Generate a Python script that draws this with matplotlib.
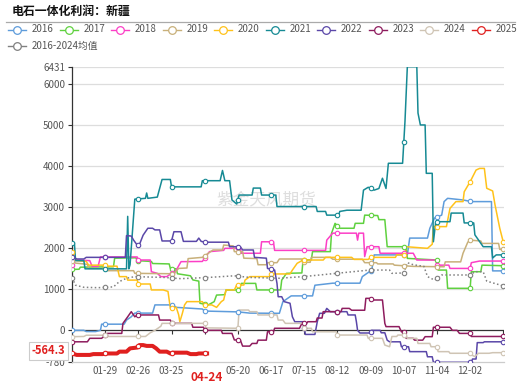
import datetime as dt
import numpy as np
import matplotlib
matplotlib.use("Agg")
import matplotlib.pyplot as plt
from matplotlib.lines import Line2D
from matplotlib import transforms

plt.rcParams['font.family'] = ['Noto Sans CJK SC', 'DejaVu Sans']

TITLE = "电石一体化利润：新疆"
WATERMARK = "紫金天风期货"
AVG_NAME = "2016-2024均值"
POINTER_DATE = "04-24"
POINTER_VALUE = -564.3
Y_MIN, Y_MAX = -780, 6431

# (day-of-year index, value) pairs
s2016 = [(0,0),(10,0),(12,-30),(20,-30),(24,0),(25,150),(44,150),(46,250),(50,330),(53,420),
         (68,420),(70,620),(85,620),(88,560),(110,520),(112,470),(140,450),(150,420),(175,415),
         (178,700),(185,840),(203,840),(205,1100),(220,1150),(243,1150),(245,1310),(253,1470),
         (255,1840),(283,1840),(285,2250),(300,2250),(302,2490),(306,2740),(312,2810),(314,3140),
         (317,3220),(330,3180),(337,3140),(354,3140),(355,1450),(365,1450)]
s2017 = [(0,1485),(6,1490),(7,1540),(35,1550),(36,1760),(54,1770),(55,1700),(67,1680),(68,1630),
         (82,1620),(83,1510),(88,1500),(89,1380),(100,1330),(102,1230),(107,1200),(108,660),
         (115,620),(120,700),(122,860),(129,870),(130,985),(141,985),(143,1145),(155,1145),
         (156,985),(176,985),(177,1225),(181,1390),(194,1400),(195,1715),(202,1720),(203,1920),
         (218,1920),(219,2365),(222,2610),(226,2490),(238,2490),(239,2610),(246,2610),(247,2810),
         (258,2800),(259,2700),(264,2700),(266,2040),(282,2040),(283,1755),(308,1715),(309,1470),
         (316,1470),(317,1025),(336,1025),(337,1430),(345,1430),(346,1590),(365,1575)]
s2018 = [(0,1595),(3,1720),(15,1700),(17,1560),(22,1560),(24,1790),(55,1790),(56,1715),(66,1715),
         (67,1430),(72,1390),(75,1310),(80,1310),(88,1470),(92,1675),(110,1680),(116,1920),
         (128,1950),(129,2000),(142,2000),(143,1880),(159,1880),(160,2160),(170,2160),(171,1950),
         (214,1950),(215,2200),(220,2370),(240,2370),(241,2200),(242,2370),(246,2370),(247,1800),
         (249,2040),(259,2040),(260,1880),(288,1880),(291,1715),(307,1715),(308,1590),(318,1590),
         (319,1510),(336,1510),(337,1650),(344,1690),(365,1690)]
s2019 = [(0,1700),(3,1640),(13,1610),(14,1510),(28,1510),(29,1455),(52,1455),(53,1390),(86,1380),
         (90,1510),(97,1520),(98,1750),(110,1780),(119,1960),(127,1960),(128,2080),(136,2060),
         (137,1920),(144,1920),(145,1760),(156,1750),(157,1600),(164,1600),(165,1650),(173,1650),
         (175,1740),(194,1740),(196,1660),(201,1660),(202,1780),(218,1780),(220,1735),(245,1735),
         (247,1650),(257,1650),(258,1620),(271,1620),(272,1590),(288,1560),(314,1550),(315,1670),
         (328,1670),(330,1880),(334,2150),(336,2200),(345,2180),(346,2120),(360,2120),(361,1975),
         (365,1975)]
s2020 = [(0,1900),(2,1800),(4,1700),(12,1680),(14,1590),(28,1590),(30,1565),(38,1565),(40,1310),
         (46,1310),(47,1225),(55,1225),(56,1130),(66,1130),(67,985),(77,985),(81,950),(83,540),
         (88,560),(90,380),(91,210),(93,400),(95,620),(97,700),(110,700),(112,620),(118,620),
         (122,560),(126,700),(128,740),(130,985),(137,985),(139,1105),(145,1105),(146,1225),
         (150,1310),(167,1310),(168,1375),(184,1375),(186,1470),(190,1635),(195,1715),(212,1715),
         (214,1780),(236,1780),(238,1730),(250,1730),(252,1780),(273,1780),(274,1840),(281,1840),
         (282,2040),(300,2000),(304,2100),(305,2530),(316,2530),(319,2975),(324,3140),(330,3140),
         (331,3380),(336,3625),(341,3910),(344,3950),(348,3950),(350,3465),(355,3400),(357,3060),
         (361,2490),(364,2150),(365,2150)]
s2021 = [(0,2140),(2,2140),(3,1700),(10,1700),(11,1500),(46,1500),(47,2780),(48,1500),(49,1600),
         (53,3200),(62,3220),(63,3350),(64,3220),(72,3250),(76,3680),(83,3680),(84,3500),(109,3500),
         (110,3650),(125,3650),(127,3900),(129,3650),(133,3650),(135,3180),(139,3080),(141,3300),
         (152,3300),(153,3470),(159,3470),(160,3300),(172,3300),(173,3020),(206,3020),(207,2900),
         (214,2900),(215,2810),(225,2810),(226,2900),(232,2930),(244,2930),(246,3420),(250,3490),
         (255,3420),(259,3460),(262,3710),(265,3460),(267,4075),(279,4075),(281,5090),(283,6431),
         (291,6431),(292,5300),(294,5010),(298,5010),(299,3830),(304,3830),(305,2160),(307,2650),
         (319,2650),(320,2860),(330,2860),(331,2620),(339,2620),(340,2330),(347,2040),(354,2040),
         (355,1765),(358,1840),(365,1840)]
s2022 = [(0,1800),(4,1740),(10,1740),(12,1780),(45,1780),(46,2310),(50,2300),(52,2200),(55,2080),
         (57,2100),(60,2320),(64,2490),(68,2490),(70,2450),(74,2450),(76,2180),(84,2180),(86,2405),
         (92,2405),(94,2170),(105,2170),(107,2250),(109,2170),(112,2150),(132,2150),(133,2040),
         (142,2040),(144,1960),(153,1960),(154,1780),(164,1760),(165,1510),(171,1470),(173,1145),
         (174,820),(177,820),(179,700),(184,660),(186,330),(188,210),(195,210),(197,-100),
         (205,-100),(207,210),(209,415),(213,415),(215,535),(218,455),(232,455),(233,375),
         (239,375),(240,210),(241,0),(243,-65),(251,-65),(253,0),(260,0),(261,-60),(264,-60),
         (266,-240),(268,-280),(277,-280),(278,-400),(284,-400),(285,-520),(299,-520),(300,-645),
         (304,-645),(305,-780),(337,-780),(338,-700),(341,-700),(342,-300),(347,-300),(348,-280),
         (365,-280)]
s2023 = [(0,-280),(13,-280),(15,-195),(25,-195),(30,-75),(42,-75),(43,170),(47,330),(50,455),
         (53,330),(55,375),(73,375),(74,250),(83,250),(84,170),(101,170),(102,75),(111,75),(112,0),
         (126,0),(127,-75),(135,-75),(137,-235),(142,-235),(144,-385),(150,-385),(152,-320),
         (156,-320),(157,-240),(164,-240),(165,-35),(170,-35),(171,50),(192,50),(194,170),(198,170),
         (199,210),(206,210),(207,300),(211,300),(212,455),(227,455),(228,535),(234,535),(236,490),
         (247,490),(248,780),(251,780),(253,740),(262,740),(264,170),(265,90),(276,90),(278,-35),
         (281,-35),(282,-195),(288,-195),(289,-240),(296,-240),(298,-155),(304,-155),(305,75),
         (319,75),(321,0),(325,0),(327,-75),(336,-75),(337,-150),(365,-150)]
s2024 = [(0,-155),(10,-150),(12,-120),(28,-120),(30,-150),(62,-150),(66,-60),(70,0),(75,100),
         (76,170),(112,170),(113,60),(140,50),(141,495),(149,495),(150,455),(156,455),(157,375),
         (173,375),(174,250),(178,250),(180,170),(195,170),(196,50),(202,50),(203,-35),(223,-35),
         (224,-115),(249,-115),(250,-195),(262,-195),(264,-360),(268,-400),(270,-150),(274,-150),
         (275,-115),(282,-115),(283,-195),(291,-195),(292,-320),(302,-320),(303,-400),(308,-400),
         (309,-520),(318,-520),(319,-560),(336,-560),(337,-600),(340,-640),(343,-560),(352,-560),
         (355,-545),(365,-545)]
s2025 = [(0,-564),(4,-600),(15,-600),(18,-580),(26,-580),(28,-565),(38,-565),(40,-520),(46,-520),
         (49,-440),(55,-420),(57,-360),(60,-360),(63,-380),(68,-380),(71,-440),(74,-520),(80,-520),
         (83,-565),(85,-545),(97,-545),(100,-580),(105,-580),(107,-565),(114,-564.3)]
s_avg = [(0,1285),(3,1100),(10,1050),(22,1040),(35,1060),(40,1190),(46,1270),(53,1310),(78,1290),
         (92,1260),(115,1290),(137,1330),(150,1290),(175,1270),(195,1310),(223,1390),(251,1470),
         (268,1470),(270,1390),(280,1400),(283,1650),(288,1600),(297,1560),(300,1310),(306,1225),
         (312,1350),(336,1350),(340,1430),(347,1430),(350,1200),(362,1100),(365,1080)]

series_names = ['2016', '2017', '2018', '2019', '2020', '2021', '2022', '2023', '2024', '2025', AVG_NAME]
series_data = [s2016, s2017, s2018, s2019, s2020, s2021, s2022, s2023, s2024, s2025, s_avg]
colors = ['#5e9cdb', '#5fd13f', '#fc3fc6', '#c8b07a', '#ffc21a', '#168a94', '#5a47a8',
          '#8e1c5e', '#cfc4b4', '#e0201f', '#808080']

W, H = 521, 383
fig = plt.figure(figsize=(W / 100, H / 100), dpi=100)
fig.patch.set_facecolor('white')

def fx(x):
    return x / W

def fy(y):
    return 1 - y / H

ax_l, ax_r, ax_t, ax_b = 72, 504.5, 66.7, 362.3
ax = fig.add_axes([fx(ax_l), fy(ax_b), (ax_r - ax_l) / W, (ax_b - ax_t) / H])
ax.set_xlim(0, 365)
ax.set_ylim(Y_MIN, Y_MAX)
for s in ['top', 'right']:
    ax.spines[s].set_visible(False)
ax.spines['left'].set_color('#333333')
ax.spines['left'].set_linewidth(0.9)
ax.spines['bottom'].set_color('#cccccc')
ax.spines['bottom'].set_linewidth(0.9)

# y ticks
yt = [Y_MIN, 0, 1000, 2000, 3000, 4000, 5000, 6000, Y_MAX]
ax.set_yticks(yt)
ax.set_yticklabels([str(v) for v in yt])
ax.tick_params(axis='y', length=3, width=0.8, color='#333333', labelsize=7, labelcolor='#555555', pad=2)
for v in [1000, 2000, 3000, 4000, 5000, 6000, Y_MAX]:
    ax.axhline(v, color='#dddddd', lw=0.9, zorder=0)

# x ticks: every 28 days in a leap-year calendar
base = dt.date(2024, 1, 1)
tick_days = list(range(28, 366, 28))
tick_labels = [(base + dt.timedelta(days=d)).strftime('%m-%d') for d in tick_days]
shown = [lab if (lab not in ('04-22', '12-30')) else '' for lab in tick_labels]
ax.set_xticks(tick_days)
ax.set_xticklabels(shown)
ax.tick_params(axis='x', length=0, labelsize=7, labelcolor='#555555', pad=3)

# zero line with tick marks
ax.axhline(0, color='#333333', lw=0.9, zorder=1)
yz = (0 - Y_MIN) / (Y_MAX - Y_MIN)
tick_h = 4 / (ax_b - ax_t)
ax.vlines(tick_days, yz - tick_h, yz, transform=ax.get_xaxis_transform(),
          color='#333333', lw=0.8, zorder=1)

# watermark
ax.text(0.45, 0.55, WATERMARK, transform=ax.transAxes, fontsize=12, color='#dedede',
        ha='center', va='center', zorder=0)

mark_days_all = np.arange(0, 366, 28)
for name, data, col in zip(series_names, series_data, colors):
    days = np.array([p[0] for p in data], dtype=float)
    vals = np.array([p[1] for p in data], dtype=float)
    if name == '2025':
        lw = 2.9
    else:
        lw = 1.1
    ls = (0, (1, 1.6)) if name == AVG_NAME else '-'
    ax.plot(days, vals, color=col, lw=lw, ls=ls, zorder=3, solid_joinstyle='round')
    md = mark_days_all[mark_days_all <= days[-1]]
    mv = np.interp(md, days, vals)
    ax.plot(md, mv, ls='none', marker='o', ms=3.2, mfc='white', mec=col, mew=0.8, zorder=4)

# axis pointer labels
pointer_day = (dt.date(2024, int(POINTER_DATE[:2]), int(POINTER_DATE[3:])) - base).days
ax.text(pointer_day, -0.03, POINTER_DATE, transform=ax.get_xaxis_transform(),
        ha='center', va='top', fontsize=8.5, fontweight='bold', color='#e0201f',
        bbox=dict(boxstyle='square,pad=0.15', fc='white', ec='none'), zorder=6, clip_on=False)
trans_y = transforms.blended_transform_factory(ax.transAxes, ax.transData)
ax.text(-0.015, -500, f"{POINTER_VALUE}", transform=trans_y, ha='right', va='center',
        fontsize=8, fontweight='bold', color='#e0201f',
        bbox=dict(boxstyle='square,pad=0.25', fc='white', ec='#cccccc', lw=0.8),
        zorder=6, clip_on=False)

# title and separator
fig.text(fx(12), fy(11), TITLE, fontsize=8.6, fontweight='bold', color='#111111',
         ha='left', va='center')
fig.add_artist(Line2D([fx(6), fx(515)], [fy(21.5), fy(21.5)], color='#aaaaaa', lw=0.9))

# legend
leg_pos = [(17 + 51.5 * i, 29.5) for i in range(10)] + [(17, 45.7)]
for (cx, cy), name, col in zip(leg_pos, series_names, colors):
    fig.add_artist(Line2D([fx(cx - 9), fx(cx + 9)], [fy(cy), fy(cy)], color=col, lw=1.0))
    fig.add_artist(Line2D([fx(cx)], [fy(cy)], marker='o', ms=5.5, mfc='white', mec=col, mew=0.9))
    fig.text(fx(cx + 15), fy(cy), name, fontsize=7, color='#555555', ha='left', va='center')

fig.savefig('out.png', dpi=100, facecolor='white')
